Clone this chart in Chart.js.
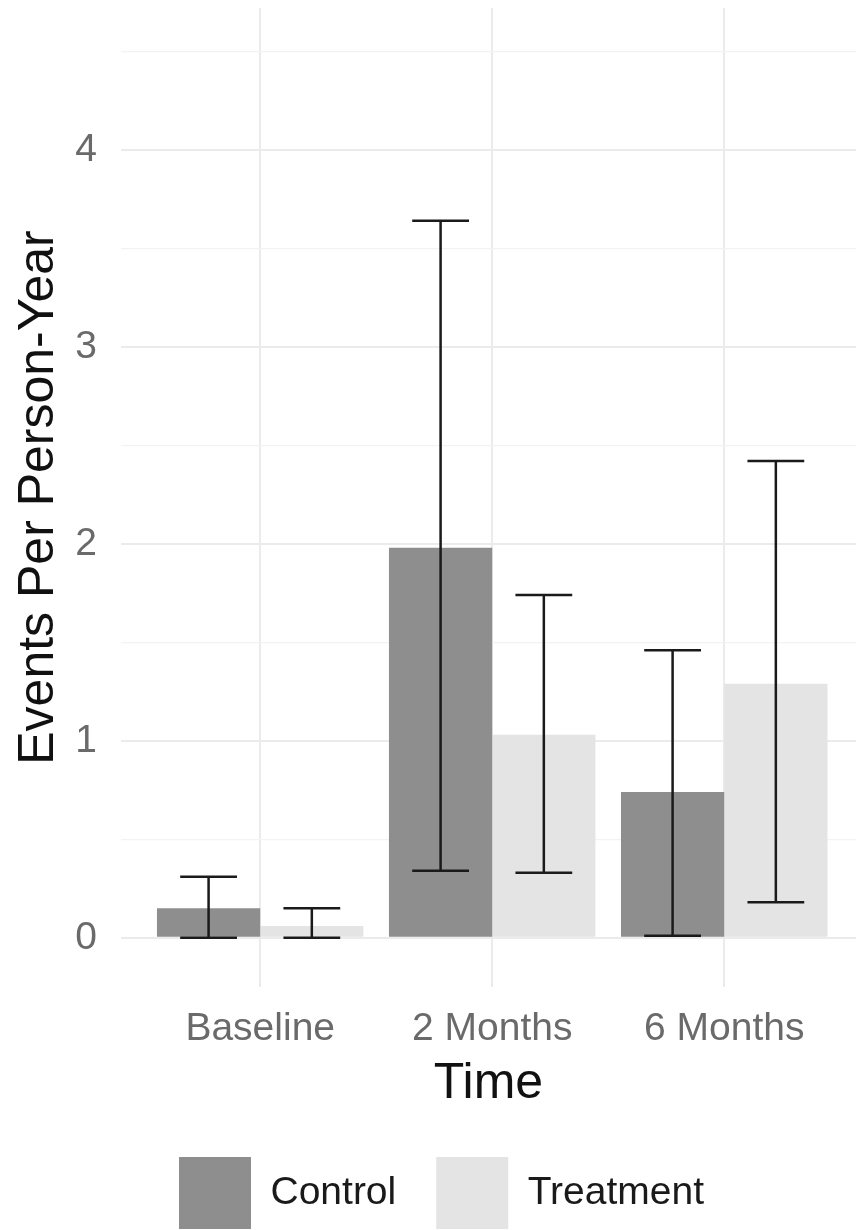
<!DOCTYPE html>
<html>
<head>
<meta charset="utf-8">
<script src="https://cdn.jsdelivr.net/npm/chart.js@4/dist/chart.umd.min.js"></script>
<style>
  html, body { margin: 0; padding: 0; background: #ffffff; overflow: hidden; }
  #wrap { width: 856px; height: 1230px; position: relative; }
</style>
</head>
<body>
<div id="wrap"><canvas id="c"></canvas></div>
<script>
// ---- Data ----
const categories = ['Baseline', '2 Months', '6 Months'];
const seriesNames = ['Control', 'Treatment'];
const controlMean = [0.15, 1.98, 0.74];
const controlLow = [0.00, 0.34, 0.01];
const controlHigh = [0.31, 3.64, 1.46];
const treatmentMean = [0.06, 1.03, 1.29];
const treatmentLow = [0.00, 0.33, 0.18];
const treatmentHigh = [0.15, 1.74, 2.42];
const yTicks = [0, 0.5, 1, 1.5, 2, 2.5, 3, 3.5, 4, 4.5];
const yTickLabels = ['0', '', '1', '', '2', '', '3', '', '4', ''];

const FONT = "'Liberation Sans', Arial, sans-serif";

function toPoints(arr) { return arr.map((v, i) => ({ x: i, y: v })); }

const errorBars = {
  id: 'errorBars',
  afterDatasetsDraw(chart) {
    const ctx = chart.ctx;
    const y = chart.scales.y;
    const lows = [controlLow, treatmentLow];
    const highs = [controlHigh, treatmentHigh];
    ctx.save();
    ctx.strokeStyle = '#1a1a1a';
    ctx.lineWidth = 2.5;
    chart.data.datasets.forEach((ds, di) => {
      const meta = chart.getDatasetMeta(di);
      meta.data.forEach((bar, i) => {
        const cx = bar.x;
        const half = bar.width * 0.275;
        const yl = y.getPixelForValue(lows[di][i]);
        const yh = y.getPixelForValue(highs[di][i]);
        ctx.beginPath();
        ctx.moveTo(cx, yl); ctx.lineTo(cx, yh);
        ctx.moveTo(cx - half, yl); ctx.lineTo(cx + half, yl);
        ctx.moveTo(cx - half, yh); ctx.lineTo(cx + half, yh);
        ctx.stroke();
      });
    });
    ctx.restore();
  }
};

const legendShift = {
  id: 'legendShift',
  afterLayout(chart) {
    const l = chart.legend;
    if (!l) return;
    l.left += 13.5; l.right += 13.5;
    l.top += 9; l.bottom += 9;
  }
};

new Chart(document.getElementById('c'), {
  type: 'bar',
  data: {
    datasets: [
      { label: seriesNames[0], data: toPoints(controlMean), backgroundColor: '#8e8e8e', borderWidth: 0 },
      { label: seriesNames[1], data: toPoints(treatmentMean), backgroundColor: '#e4e4e4', borderWidth: 0 }
    ]
  },
  options: {
    responsive: true,
    maintainAspectRatio: false,
    animation: false,
    datasets: { bar: { categoryPercentage: 0.89, barPercentage: 1.0 } },
    layout: { padding: { top: 8, left: 0, right: 0, bottom: 0 } },
    plugins: {
      tooltip: { enabled: false },
      legend: {
        position: 'bottom',
        align: 'center',
        labels: {
          boxWidth: 72,
          boxHeight: 72,
          padding: 40,
          color: '#1a1a1a',
          font: { family: FONT, size: 39 }
        }
      }
    },
    scales: {
      x: {
        type: 'linear',
        position: 'bottom',
        min: -0.6,
        max: 2.568,
        offset: false,
        afterBuildTicks: s => { s.ticks = categories.map((_, i) => ({ value: i })); },
        afterFit: s => { s.height = 121; s.paddingLeft = 0; s.paddingRight = 0; },
        grid: { color: '#ebebeb', lineWidth: 2, drawTicks: false, offset: false },
        border: { display: false },
        ticks: {
          autoSkip: false,
          maxRotation: 0,
          padding: 19,
          color: '#6a6a6a',
          font: { family: FONT, size: 39 },
          callback: v => categories[v] ?? ''
        },
        title: {
          display: true,
          text: 'Time',
          color: '#111111',
          font: { family: FONT, size: 50 },
          padding: { top: 0, bottom: -6 }
        }
      },
      y: {
        min: -0.25,
        max: 4.72,
        afterBuildTicks: s => { s.ticks = yTicks.map(v => ({ value: v })); },
        afterFit: s => { s.width = 121; s.paddingTop = 0; s.paddingBottom = 0; },
        grid: {
          drawTicks: false,
          color: ctx => (ctx.tick && Number.isInteger(ctx.tick.value)) ? '#ebebeb' : '#f3f3f3',
          lineWidth: ctx => (ctx.tick && Number.isInteger(ctx.tick.value)) ? 2 : 1.2
        },
        border: { display: false },
        ticks: {
          autoSkip: false,
          padding: 24,
          color: '#6a6a6a',
          font: { family: FONT, size: 39 },
          callback: (v, i) => yTickLabels[i]
        },
        title: {
          display: true,
          text: 'Events Per Person-Year',
          color: '#111111',
          font: { family: FONT, size: 50 },
          padding: { top: 9, bottom: 0 }
        }
      }
    }
  },
  plugins: [errorBars, legendShift]
});
</script>
</body>
</html>
